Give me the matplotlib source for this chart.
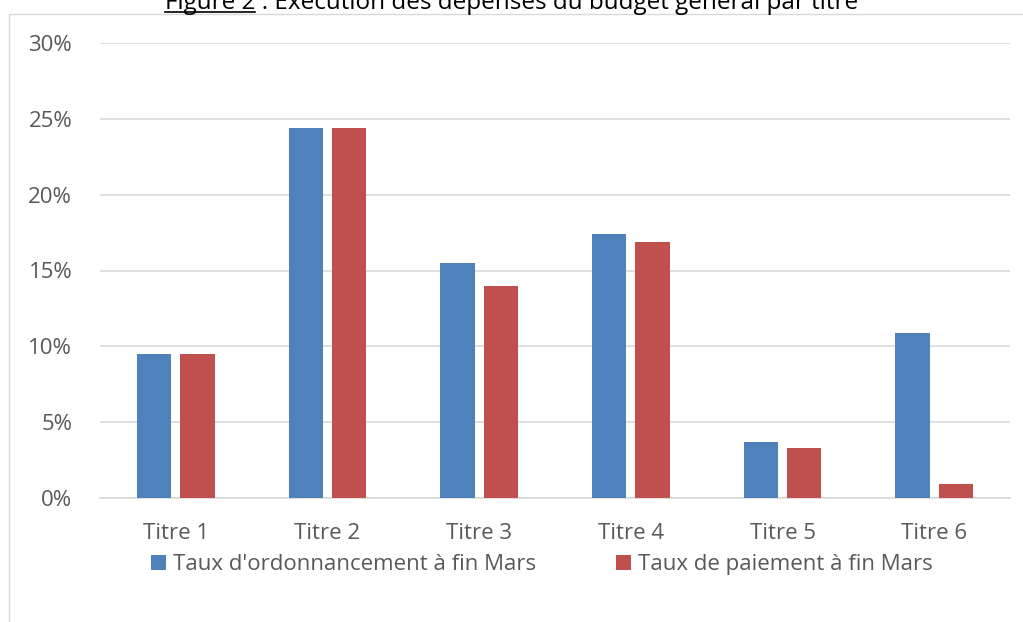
import matplotlib
matplotlib.use("Agg")
import matplotlib.pyplot as plt
from matplotlib.patches import Rectangle
from matplotlib.lines import Line2D
import numpy as np

categories = ["Titre 1", "Titre 2", "Titre 3", "Titre 4", "Titre 5", "Titre 6"]
ordonnancement = [9.5, 24.4, 15.5, 17.4, 3.7, 10.9]
paiement = [9.5, 24.4, 14.0, 16.9, 3.3, 0.9]
series_labels = ["Taux d'ordonnancement à fin Mars", "Taux de paiement à fin Mars"]
yticks = [0, 5, 10, 15, 20, 25, 30]

blue = "#4f81bd"
red = "#c0504d"
grey_text = "#595959"

plt.rcParams['font.family'] = ['Open Sans', 'DejaVu Sans']
fs = 16

W, H = 1023, 622
fig = plt.figure(figsize=(W / 100, H / 100), dpi=100)
ax = fig.add_axes([100 / W, 1 - 498 / H, 910 / W, 455 / H])

x = np.arange(len(categories))
bw = 0.225
gap = 0.03
ax.bar(x - bw / 2 - gap, ordonnancement, bw, color=blue, label=series_labels[0], zorder=3)
ax.bar(x + bw / 2 + gap, paiement, bw, color=red, label=series_labels[1], zorder=3)

ax.set_xlim(-0.5, len(categories) - 0.5)
ax.set_ylim(0, 30)
ax.set_yticks(yticks)
ax.set_yticklabels([f"{v}%" for v in yticks])
ax.set_xticks(x)
ax.set_xticklabels(categories)
ax.tick_params(axis='both', length=0, labelsize=fs, colors=grey_text)
ax.tick_params(axis='y', pad=20)
ax.tick_params(axis='x', pad=18)
ax.grid(axis='y', color='#d9d9d9', linewidth=1.2, zorder=0)
for s in ['top', 'right', 'left']:
    ax.spines[s].set_visible(False)
ax.spines['bottom'].set_color('#d9d9d9')
ax.spines['bottom'].set_linewidth(1.2)

leg = ax.legend(loc='upper left', bbox_to_anchor=(140 / W, 1 - 543 / H),
                bbox_transform=fig.transFigure, ncol=2, frameon=False,
                fontsize=fs, handlelength=0.68, handleheight=0.68,
                handletextpad=0.3, columnspacing=3.6, borderpad=0, labelcolor=grey_text)

# chart frame
fig.patches.append(Rectangle((9 / W, -0.05), 1.2, 1 - 14 / H + 0.05,
                             transform=fig.transFigure, fill=False,
                             edgecolor='#d9d9d9', linewidth=1.0))

# title, partly cut off at the top like in the source document
title_y = 1 - 9 / H
tfs = 17.5
t = fig.text(0.5, title_y, "Figure 2 : Exécution des dépenses du budget général par titre",
             ha='center', va='baseline', fontsize=tfs, color='black')
fig.canvas.draw()
r = fig.canvas.get_renderer()
bb = t.get_window_extent(r)
t2 = fig.text(bb.x0 / W, title_y, "Figure 2", ha='left', va='baseline', fontsize=tfs, alpha=0)
bb2 = t2.get_window_extent(r)
fig.add_artist(Line2D([bb2.x0 / W, bb2.x1 / W], [title_y - 2.5 / H, title_y - 2.5 / H],
                      transform=fig.transFigure, color='black', linewidth=1.2))

fig.savefig("out.png", dpi=100)
